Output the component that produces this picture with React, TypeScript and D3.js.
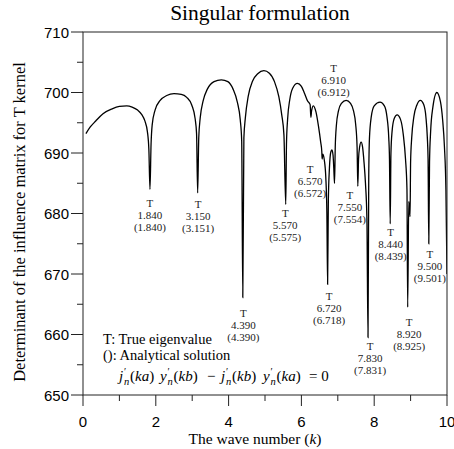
import React from 'react';
import * as d3 from 'd3';

// determinant curve: [k, value]
const curvePoints: [number, number][] = [
  [0.08, 693.2], [0.2, 694.3], [0.35, 695.3], [0.55, 696.5], [0.8, 697.3], [1.0, 697.7], [1.2, 697.8],
  [1.35, 697.6], [1.5, 697.1], [1.61, 696.4], [1.7, 695.3], [1.77, 693.5], [1.81, 690.5], [1.84, 684.0],
  [1.87, 691.5], [1.9, 694.6], [1.98, 697.1], [2.12, 698.7], [2.3, 699.5], [2.5, 699.8], [2.7, 699.7],
  [2.85, 699.2], [2.99, 697.9], [3.08, 695.7], [3.12, 693.2], [3.15, 683.4],
  [3.18, 692.5], [3.22, 695.8], [3.3, 698.6], [3.42, 700.6], [3.6, 701.8], [3.8, 702.1], [3.98, 701.8],
  [4.12, 700.6], [4.24, 698.4], [4.32, 695.5], [4.36, 692.0], [4.39, 666.1],
  [4.42, 692.5], [4.46, 695.8], [4.54, 699.4], [4.66, 701.9], [4.8, 703.1], [4.97, 703.6], [5.12, 703.2],
  [5.26, 701.8], [5.38, 699.3], [5.46, 696.3], [5.52, 693.0], [5.57, 681.5],
  [5.59, 691.5], [5.62, 695.5], [5.68, 698.8], [5.76, 700.7], [5.89, 701.5], [6.0, 701.0], [6.09, 699.8],
  [6.17, 698.6], [6.24, 698.0], [6.26, 695.9], [6.28, 697.0], [6.33, 697.8], [6.4, 696.8], [6.47, 694.4],
  [6.53, 691.8], [6.56, 690.3], [6.57, 689.0], [6.59, 689.8], [6.63, 688.8], [6.67, 686.0], [6.7, 680.0],
  [6.72, 668.3], [6.74, 682.0], [6.77, 687.5], [6.81, 690.2], [6.84, 690.5], [6.87, 689.6], [6.89, 687.5],
  [6.91, 685.0], [6.93, 691.0], [6.96, 694.5], [7.02, 697.0], [7.1, 698.2], [7.23, 698.7], [7.35, 698.2],
  [7.43, 697.0], [7.49, 694.8], [7.53, 691.0], [7.55, 684.5],
  [7.57, 689.0], [7.6, 691.0], [7.64, 691.8], [7.68, 691.0], [7.72, 688.5], [7.76, 685.0], [7.8, 679.0],
  [7.83, 659.5], [7.85, 686.0], [7.87, 692.5], [7.92, 696.0], [8.0, 697.8], [8.16, 698.4], [8.28, 697.8],
  [8.35, 696.0], [8.4, 692.5], [8.42, 689.0], [8.44, 678.3],
  [8.46, 690.0], [8.49, 693.5], [8.55, 695.7], [8.63, 696.3], [8.72, 695.6], [8.8, 693.0], [8.86, 689.0],
  [8.9, 684.0], [8.92, 664.5], [8.95, 682.0], [8.985, 679.5],
  [9.0, 688.5], [9.03, 692.5], [9.09, 696.0], [9.17, 697.9], [9.27, 698.7], [9.36, 698.0], [9.42, 696.0],
  [9.46, 692.5], [9.48, 689.0], [9.5, 675.0],
  [9.52, 688.5], [9.55, 693.5], [9.61, 697.5], [9.72, 700.0], [9.82, 698.5], [9.88, 695.5], [9.93, 691.0],
  [9.97, 684.0], [10.0, 670.0],
];

// eigenvalue labels
const trueEig = ['1.840', '3.150', '4.390', '5.570', '6.570', '6.720', '6.910', '7.550', '7.830', '8.440', '8.920', '9.500'];
const analytic = ['1.840', '3.151', '4.390', '5.575', '6.572', '6.718', '6.912', '7.554', '7.831', '8.439', '8.925', '9.501'];
// label layout: [x offset px from the eigenvalue, y px of the "T" row]
const labelLayout: [number, number][] = [
  [0, 203], [0.5, 204], [0.5, 313], [-0.5, 213], [-12, 169], [1.5, 296],
  [-1, 68], [-8, 195], [2, 346], [0.5, 232], [1.5, 322], [1, 254],
];

// formula pieces: [function, argument, x px]
const formulaParts: [string, string, number][] = [
  ['j', 'ka', 119], ['y', 'kb', 160], ['j', 'kb', 221], ['y', 'ka', 263],
];

const xTicks = [0, 2, 4, 6, 8, 10];
const yTicks = [650, 660, 670, 680, 690, 700, 710];

const W = 454, H = 449;
const M = { left: 83, right: 447, top: 32, bottom: 395 };
const serif = '"Liberation Serif", "Times New Roman", serif';
const sans = '"Liberation Sans", Arial, sans-serif';

export default function App() {
  const x = d3.scaleLinear().domain([0, 10]).range([M.left, M.right]);
  const y = d3.scaleLinear().domain([650, 710]).range([M.bottom, M.top]);

  const line = d3
    .line<[number, number]>()
    .x((d) => x(d[0]))
    .y((d) => y(d[1]))
    .curve(d3.curveMonotoneX);

  const xMinor = d3.range(1, 10, 2);
  const yMinor = d3.range(655, 710, 10);
  const fy = 381;

  return (
    <svg
      width={W}
      height={H}
      style={{ position: 'absolute', left: 0, top: 0, background: '#fff' }}
    >
      <defs>
        <clipPath id="plot">
          <rect x={M.left} y={M.top} width={M.right - M.left} height={M.bottom - M.top} />
        </clipPath>
      </defs>

      {/* title */}
      <text x={260} y={20} textAnchor="middle" fontFamily={serif} fontSize={21.5}>
        Singular formulation
      </text>

      {/* curve */}
      <path d={line(curvePoints) || ''} fill="none" stroke="#000" strokeWidth={1.3} clipPath="url(#plot)" />

      {/* frame */}
      <rect x={M.left} y={M.top} width={M.right - M.left} height={M.bottom - M.top} fill="none" stroke="#222" strokeWidth={1} />

      {/* y axis */}
      {yTicks.map((t) => (
        <g key={t}>
          <line x1={M.left - 12} x2={M.left} y1={y(t)} y2={y(t)} stroke="#222" />
          <text x={M.left - 14} y={y(t) + 5.5} textAnchor="end" fontFamily={sans} fontSize={15}>
            {t}
          </text>
        </g>
      ))}
      {yMinor.map((t) => (
        <line key={t} x1={M.left - 6} x2={M.left} y1={y(t)} y2={y(t)} stroke="#222" />
      ))}

      {/* x axis */}
      {xTicks.map((t) => (
        <g key={t}>
          <line x1={x(t)} x2={x(t)} y1={M.bottom} y2={M.bottom + 11} stroke="#222" />
          <text x={x(t)} y={M.bottom + 31.5} textAnchor="middle" fontFamily={sans} fontSize={15}>
            {t}
          </text>
        </g>
      ))}
      {xMinor.map((t) => (
        <line key={t} x1={x(t)} x2={x(t)} y1={M.bottom} y2={M.bottom + 6} stroke="#222" />
      ))}

      {/* axis titles */}
      <text x={255} y={444} textAnchor="middle" fontFamily={serif} fontSize={15.5}>
        The wave number (<tspan fontStyle="italic">k</tspan>)
      </text>
      <text
        transform="translate(25,222) rotate(-90)"
        textAnchor="middle"
        fontFamily={serif}
        fontSize={16.5}
      >
        Determinant of the influence matrix for T kernel
      </text>

      {/* eigenvalue labels */}
      {trueEig.map((v, i) => {
        const [dx, ty] = labelLayout[i];
        const cx = x(+v) + dx;
        return (
          <g key={v} fontFamily={serif} fontSize={11} fill="#222" textAnchor="middle">
            <text x={cx} y={ty + 3.5}>T</text>
            <text x={cx} y={ty + 15.5}>{v}</text>
            <text x={cx} y={ty + 27.5}>({analytic[i]})</text>
          </g>
        );
      })}

      {/* legend */}
      <text x={103} y={344} fontFamily={serif} fontSize={14.5}>T: True eigenvalue</text>
      <text x={103} y={360} fontFamily={serif} fontSize={14.5}>(): Analytical solution</text>
      <text fontFamily={serif} fontSize={15}>
        {formulaParts.map(([f, arg, px]) => {
          const sx = f === 'y' ? 7.5 : 5;
          return (
            <React.Fragment key={px}>
              <tspan x={px} y={fy} fontStyle="italic">{f}</tspan>
              <tspan x={px + sx} y={fy - 6} fontSize={10}>′</tspan>
              <tspan x={px + sx} y={fy + 4} fontSize={10.5} fontStyle="italic">n</tspan>
              <tspan x={px + sx + 6} y={fy}>(</tspan>
              <tspan fontStyle="italic">{arg}</tspan>
              <tspan>)</tspan>
            </React.Fragment>
          );
        })}
        <tspan x={207} y={fy}>−</tspan>
        <tspan x={309} y={fy}>= 0</tspan>
      </text>
    </svg>
  );
}
